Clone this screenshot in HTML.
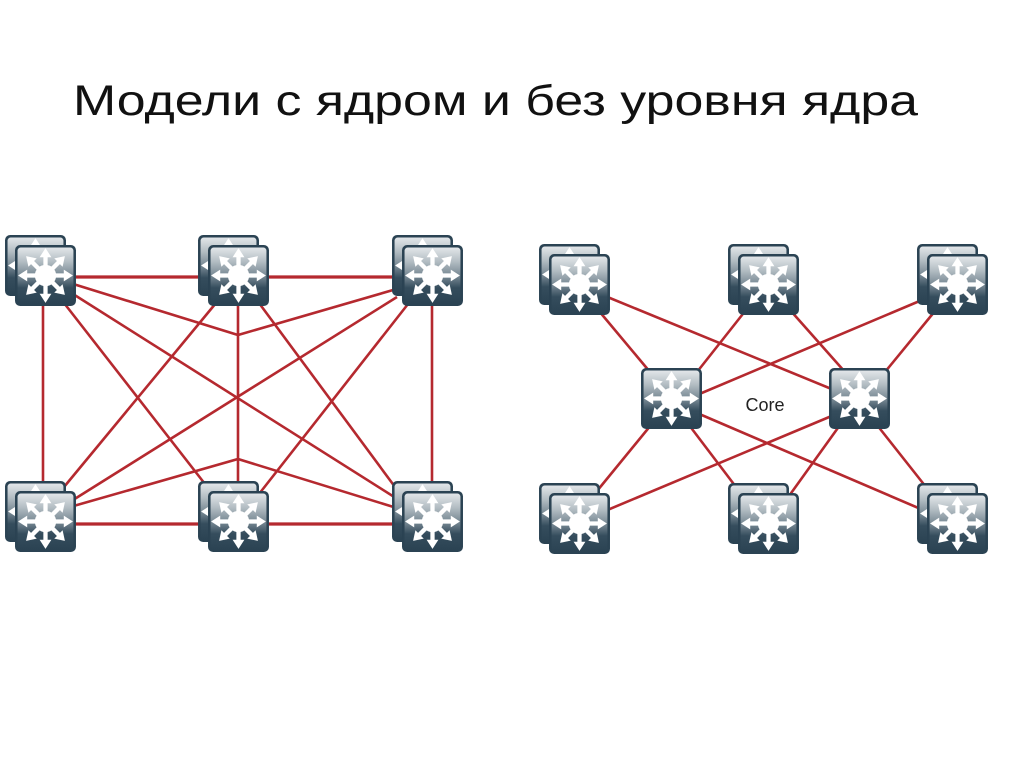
<!DOCTYPE html>
<html><head><meta charset="utf-8"><style>
html,body{margin:0;padding:0;background:#fff;}
body{width:1024px;height:767px;overflow:hidden;}
svg{display:block;}
</style></head><body>
<svg width="1024" height="767" viewBox="0 0 1024 767" xmlns="http://www.w3.org/2000/svg">
<defs>
<linearGradient id="g" x1="0" y1="0" x2="0" y2="1">
<stop offset="0" stop-color="#e2e6e9"/>
<stop offset="0.25" stop-color="#b3bdc3"/>
<stop offset="0.55" stop-color="#6c7e8a"/>
<stop offset="0.72" stop-color="#354d5d"/>
<stop offset="1" stop-color="#2b4353"/>
</linearGradient>
<path id="ar" d="M0,-2.1 L18,-2.1 L18,-5.8 L27,0 L18,5.8 L18,2.1 L0,2.1 Z" fill="#fff"/>
<symbol id="sw" viewBox="0 0 62 62">
<rect x="1" y="1" width="60" height="60" rx="5" fill="#2b4353"/>
<rect x="3.5" y="3.5" width="55" height="55" rx="3" fill="url(#g)"/>
<g transform="translate(31,31)">
<use href="#ar"/>
<use href="#ar" transform="rotate(45)"/>
<use href="#ar" transform="rotate(90)"/>
<use href="#ar" transform="rotate(135)"/>
<use href="#ar" transform="rotate(180)"/>
<use href="#ar" transform="rotate(225)"/>
<use href="#ar" transform="rotate(270)"/>
<use href="#ar" transform="rotate(315)"/>
<circle r="10.5" fill="#fff"/>
</g>
</symbol>
</defs>

<text x="73" y="115" font-family="'Liberation Sans', 'DejaVu Sans', sans-serif" font-size="43" fill="#111" textLength="845" lengthAdjust="spacingAndGlyphs">Модели с ядром и без уровня ядра</text>

<!-- Left diagram lines -->
<g stroke="#b5292f" stroke-width="2.6" fill="none" stroke-linecap="butt">
<line x1="46" y1="277" x2="432" y2="277" stroke-width="3.2"/>
<line x1="46" y1="524" x2="432" y2="524" stroke-width="3.2"/>
<line x1="43" y1="277" x2="43" y2="524"/>
<line x1="238" y1="277" x2="238" y2="524"/>
<line x1="432" y1="277" x2="432" y2="524"/>
<polyline points="70,283 238,335 400,288"/>
<polyline points="70,507 238,459 400,509"/>
<line x1="64" y1="303" x2="205" y2="484"/>
<line x1="73" y1="294" x2="399" y2="500"/>
<line x1="216" y1="303" x2="64" y2="487"/>
<line x1="259" y1="303" x2="398" y2="491"/>
<line x1="397" y1="297" x2="73" y2="500"/>
<line x1="408" y1="304" x2="259" y2="494"/>
</g>

<!-- Right diagram lines -->
<g stroke="#b5292f" stroke-width="2.6" fill="none">
<line x1="605" y1="296" x2="834" y2="390"/>
<line x1="599" y1="311" x2="650" y2="372"/>
<line x1="746" y1="310" x2="697" y2="372"/>
<line x1="790" y1="310" x2="845" y2="372"/>
<line x1="922" y1="300" x2="697" y2="395"/>
<line x1="935" y1="311" x2="885" y2="372"/>
<line x1="651" y1="425" x2="597" y2="491"/>
<line x1="689" y1="425" x2="736" y2="487"/>
<line x1="697" y1="413" x2="923" y2="510"/>
<line x1="834" y1="415" x2="605" y2="511"/>
<line x1="840" y1="425" x2="789" y2="496"/>
<line x1="877" y1="425" x2="926" y2="487"/>
</g>

<!-- Left diagram nodes -->
<use href="#sw" x="4" y="234" width="63" height="63"/>
<use href="#sw" x="14" y="244" width="63" height="63"/>
<use href="#sw" x="197" y="234" width="63" height="63"/>
<use href="#sw" x="207" y="244" width="63" height="63"/>
<use href="#sw" x="391" y="234" width="63" height="63"/>
<use href="#sw" x="401" y="244" width="63" height="63"/>
<use href="#sw" x="4" y="480" width="63" height="63"/>
<use href="#sw" x="14" y="490" width="63" height="63"/>
<use href="#sw" x="197" y="480" width="63" height="63"/>
<use href="#sw" x="207" y="490" width="63" height="63"/>
<use href="#sw" x="391" y="480" width="63" height="63"/>
<use href="#sw" x="401" y="490" width="63" height="63"/>

<!-- Right diagram nodes -->
<use href="#sw" x="538" y="243" width="63" height="63"/>
<use href="#sw" x="548" y="253" width="63" height="63"/>
<use href="#sw" x="727" y="243" width="63" height="63"/>
<use href="#sw" x="737" y="253" width="63" height="63"/>
<use href="#sw" x="916" y="243" width="63" height="63"/>
<use href="#sw" x="926" y="253" width="63" height="63"/>
<use href="#sw" x="538" y="482" width="63" height="63"/>
<use href="#sw" x="548" y="492" width="63" height="63"/>
<use href="#sw" x="727" y="482" width="63" height="63"/>
<use href="#sw" x="737" y="492" width="63" height="63"/>
<use href="#sw" x="916" y="482" width="63" height="63"/>
<use href="#sw" x="926" y="492" width="63" height="63"/>
<use href="#sw" x="640" y="367" width="63" height="63"/>
<use href="#sw" x="828" y="367" width="63" height="63"/>

<text x="765" y="411" text-anchor="middle" font-family="'Liberation Sans', Arial, sans-serif" font-size="18" fill="#222">Core</text>
</svg>
</body></html>
